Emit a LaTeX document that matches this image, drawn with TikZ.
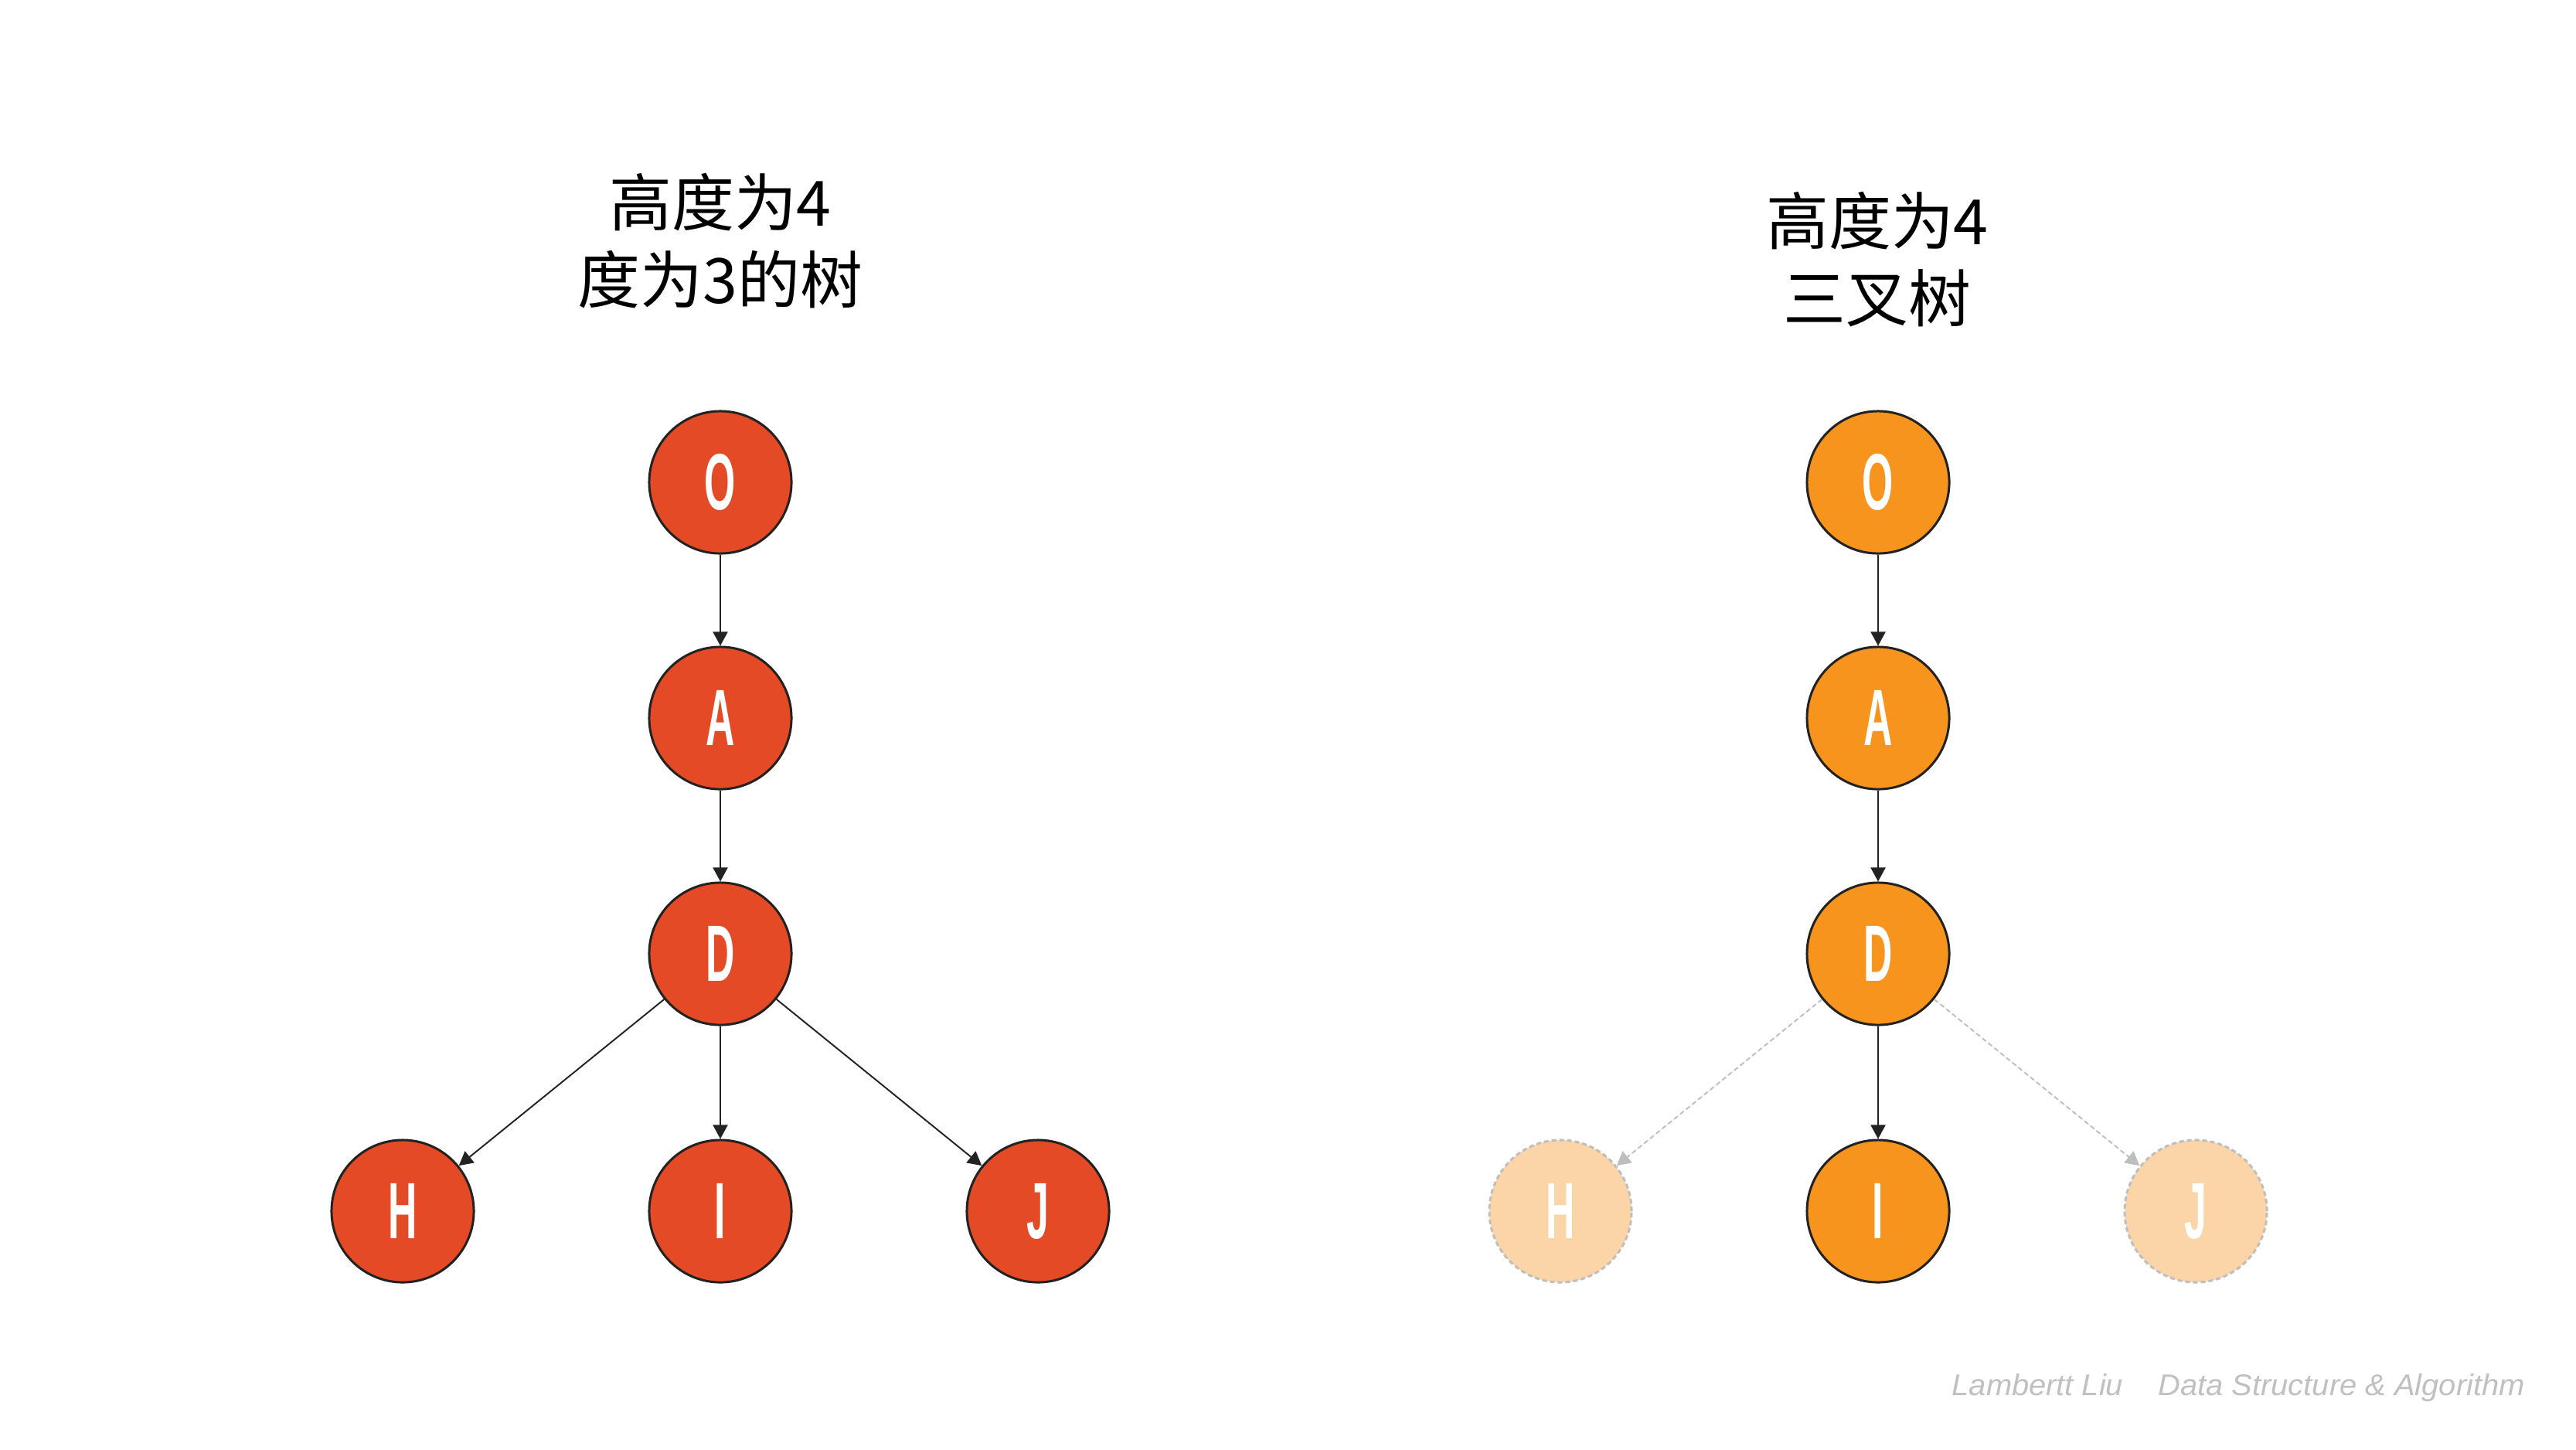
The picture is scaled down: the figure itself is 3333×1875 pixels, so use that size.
\documentclass[tikz,border=0pt]{standalone}
\usepackage{fontspec}
\usepackage{graphicx}
\usetikzlibrary{arrows.meta}
\newfontfamily\cjk{Noto Sans CJK SC}
\newfontfamily\letterfont{Liberation Sans}
\newfontfamily\footfont{Liberation Sans}
\definecolor{redfill}{RGB}{227,74,37}
\definecolor{orangefill}{RGB}{247,148,30}
\definecolor{palefill}{RGB}{251,213,167}
\definecolor{dashgray}{RGB}{190,190,190}
\definecolor{edgec}{RGB}{34,34,34}
\definecolor{footgray}{RGB}{192,192,192}
\newcommand\nodelabel[1]{\scalebox{0.5}[1]{\letterfont\bfseries\fontsize{29.4pt}{30pt}\selectfont #1}}
\newcommand\foottext[1]{\scalebox{1.03}[1]{\footfont\itshape\fontsize{11pt}{13pt}\selectfont #1}}
\tikzset{
  tnode/.style={circle, minimum size=1.84cm, inner sep=0pt, draw=edgec, line width=0.85pt, text=white},
  redn/.style={tnode, fill=redfill},
  orangen/.style={tnode, fill=orangefill},
  palen/.style={tnode, fill=palefill, draw=dashgray, dash pattern=on 0.06cm off 0.04cm},
  arr/.style={-{Triangle[length=0.18cm,width=0.19cm]}, draw=edgec, fill=edgec, line width=0.55pt},
  darr/.style={-{Triangle[length=0.18cm,width=0.19cm]}, draw=dashgray, fill=dashgray, line width=0.55pt, dash pattern=on 0.06cm off 0.04cm},
  title/.style={align=center, font=\cjk\fontsize{23pt}{28.45pt}\selectfont, text=black},
  foot/.style={anchor=base west, inner sep=0pt, text=footgray}
}
\begin{document}
\begin{tikzpicture}[x=0.01cm, y=-0.01cm]
\useasboundingbox (0,0) rectangle (3333,1875);
\fill[white] (0,0) rectangle (3333,1875);

% titles
\node[title] (t1) at (932,312) {高度为4\\度为3的树};
\node[title] (t2) at (2429,336) {高度为4\\三叉树};

% left tree
\node[redn] (lO) at (932,624) {\nodelabel{O}};
\node[redn] (lA) at (932,929) {\nodelabel{A}};
\node[redn] (lD) at (932,1234) {\nodelabel{D}};
\node[redn] (lH) at (521,1567) {\nodelabel{H}};
\node[redn] (lI) at (932,1567) {\nodelabel{I}};
\node[redn] (lJ) at (1343,1567) {\nodelabel{J}};
\draw[arr] (lO) -- (lA);
\draw[arr] (lA) -- (lD);
\draw[arr] (lD) -- (lH);
\draw[arr] (lD) -- (lI);
\draw[arr] (lD) -- (lJ);

% right tree
\node[orangen] (rO) at (2430,624) {\nodelabel{O}};
\node[orangen] (rA) at (2430,929) {\nodelabel{A}};
\node[orangen] (rD) at (2430,1234) {\nodelabel{D}};
\node[palen] (rH) at (2019,1567) {\nodelabel{H}};
\node[orangen] (rI) at (2430,1567) {\nodelabel{I}};
\node[palen] (rJ) at (2841,1567) {\nodelabel{J}};
\draw[arr] (rO) -- (rA);
\draw[arr] (rA) -- (rD);
\draw[darr] (rD) -- (rH);
\draw[arr] (rD) -- (rI);
\draw[darr] (rD) -- (rJ);

% footer
\node[foot] (f1) at (2525,1805) {\foottext{Lambertt Liu}};
\node[foot] (f2) at (2792,1805) {\foottext{Data Structure \& Algorithm}};
\end{tikzpicture}
\end{document}
